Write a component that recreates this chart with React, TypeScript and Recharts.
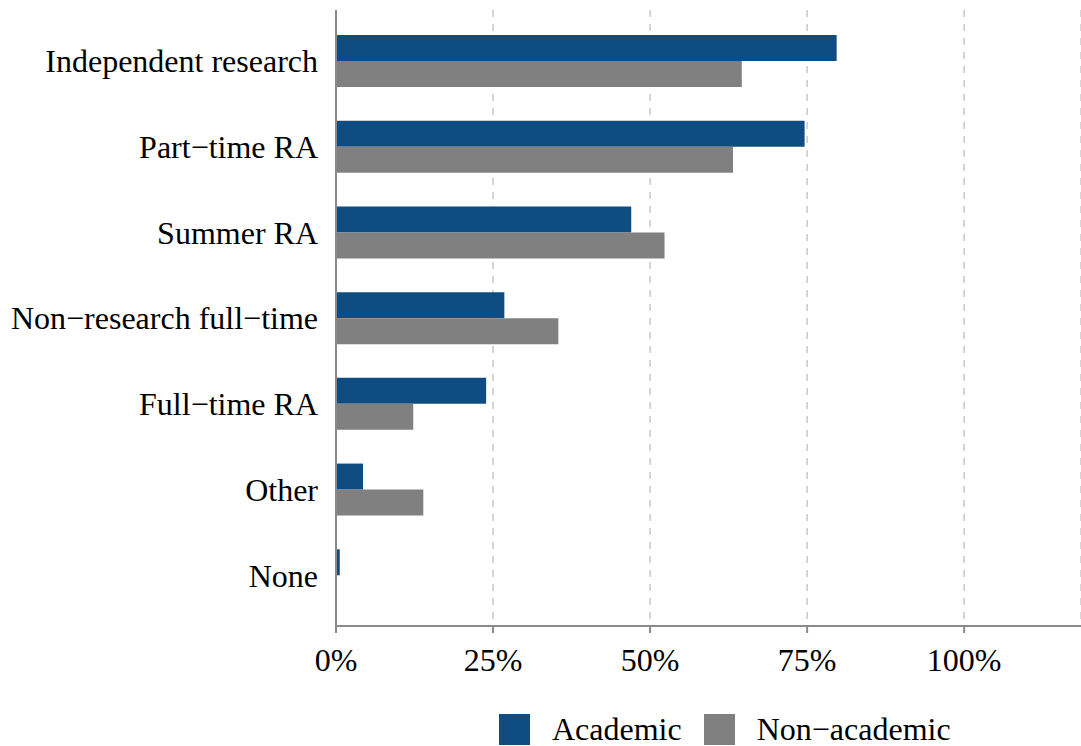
import React from 'react';
import { BarChart, Bar, XAxis, YAxis, CartesianGrid, Legend } from 'recharts';

const categories = [
  'Independent research',
  'Part\u2212time RA',
  'Summer RA',
  'Non\u2212research full\u2212time',
  'Full\u2212time RA',
  'Other',
  'None',
];
const academic = [0.797, 0.746, 0.47, 0.268, 0.239, 0.043, 0.006];
const nonAcademic = [0.646, 0.632, 0.523, 0.354, 0.123, 0.139, 0];
const xTicks = [0, 0.25, 0.5, 0.75, 1];

const BLUE = '#0f4c81';
const GREY = '#808080';
const AXIS = '#8a8a8a';
const FONT = '"Liberation Serif", "Times New Roman", serif';

const data = categories.map((name, i) => ({
  name,
  academic: academic[i],
  nonAcademic: nonAcademic[i],
}));

const LegendBox = () => {
  const items = [
    { label: 'Academic', color: BLUE },
    { label: 'Non\u2212academic', color: GREY },
  ];
  return (
    <div style={{ display: 'flex', alignItems: 'center', fontFamily: FONT, fontSize: 32, color: '#000' }}>
      {items.map((it, i) => (
        <div key={it.label} style={{ display: 'flex', alignItems: 'center', marginLeft: i === 0 ? 0 : 22 }}>
          <div style={{ width: 31, height: 31, background: it.color }} />
          <span style={{ marginLeft: 22, lineHeight: '31px' }}>{it.label}</span>
        </div>
      ))}
    </div>
  );
};

export default function App() {
  return (
    <div style={{ position: 'absolute', left: 0, top: 0, width: 1081, height: 746, background: '#fff' }}>
      <BarChart
        width={1081}
        height={746}
        data={data}
        layout="vertical"
        margin={{ top: 10, right: 0, left: 0, bottom: 0 }}
        barGap={0}
      >
        <CartesianGrid horizontal={false} stroke="#c8c8c8" strokeDasharray="7 7" strokeWidth={1.5} />
        <XAxis
          type="number"
          domain={[0, 1.186]}
          ticks={xTicks}
          allowDataOverflow
          tickFormatter={(v: number) => `${Math.round(v * 100)}%`}
          height={120}
          tickSize={7}
          tickMargin={15}
          axisLine={{ stroke: AXIS, strokeWidth: 2 }}
          tickLine={{ stroke: AXIS, strokeWidth: 2 }}
          tick={{ fill: '#000', fontSize: 32, fontFamily: FONT }}
        />
        <YAxis
          type="category"
          dataKey="name"
          width={336}
          padding={{ top: 8, bottom: 8 }}
          tickSize={0}
          tickMargin={18}
          axisLine={{ stroke: AXIS, strokeWidth: 2 }}
          tickLine={false}
          interval={0}
          tick={{ fill: '#000', fontSize: 32, fontFamily: FONT }}
        />
        <Legend
          layout="horizontal"
          verticalAlign="middle"
          align="center"
          content={<LegendBox />}
          wrapperStyle={{ position: 'absolute', top: 714, left: 499, width: 'auto' }}
        />
        <Bar dataKey="academic" name="Academic" fill={BLUE} barSize={26} isAnimationActive={false} />
        <Bar dataKey="nonAcademic" name="Non-academic" fill={GREY} barSize={26} isAnimationActive={false} />
      </BarChart>
    </div>
  );
}
